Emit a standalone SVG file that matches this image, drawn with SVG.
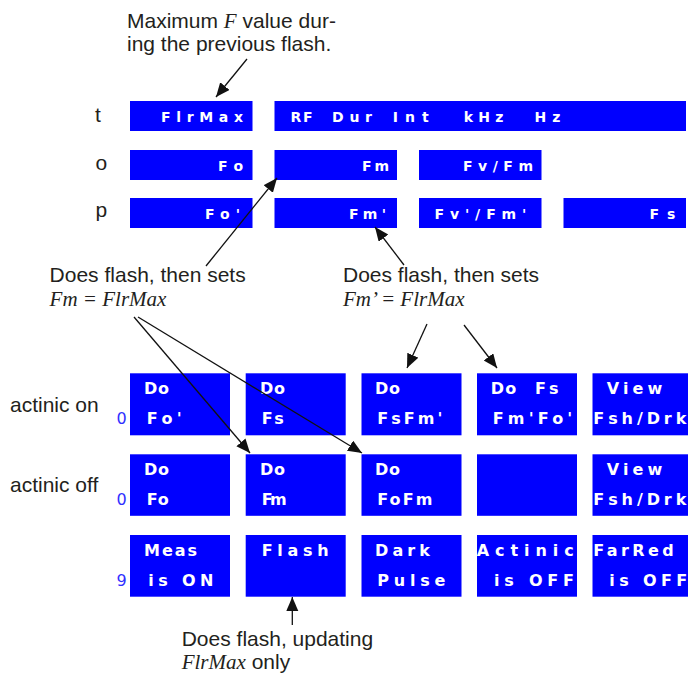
<svg xmlns="http://www.w3.org/2000/svg" width="688" height="673" viewBox="0 0 688 673">
<style>
.box{fill:#0000ff}
.lcd{font-family:"DejaVu Sans",Verdana,sans-serif;font-weight:bold;fill:#ffffff}
.up{font-size:14px}
.lo{font-size:16px}
.ann{font-family:"Liberation Sans",Arial,sans-serif;font-size:21px;fill:#231f20}
.it{font-family:"Liberation Serif","Times New Roman",serif;font-style:italic}
.num{font-family:"DejaVu Sans",sans-serif;font-size:16px;fill:#3030ff}
.conn line{stroke:#111;stroke-width:1.3;marker-end:url(#ah)}
</style>
<defs>
<marker id="ah" markerUnits="userSpaceOnUse" markerWidth="16" markerHeight="14" refX="14" refY="6" orient="auto">
<path d="M0,0 L14,6 L0,12 z" fill="#111"/>
</marker>
</defs>
<rect width="688" height="673" fill="#ffffff"/>

<g id="labels">
<text class="ann" x="127" y="28">Maximum <tspan class="it">F</tspan> value dur-</text>
<text class="ann" x="127" y="50.5">ing the previous flash.</text>
<text class="ann" x="95" y="122">t</text>
<text class="ann" x="95.5" y="170">o</text>
<text class="ann" x="95.5" y="217">p</text>
<text class="ann" x="49.6" y="282">Does flash, then sets</text>
<text class="ann it" x="49.6" y="306">Fm = FlrMax</text>
<text class="ann" x="343" y="282">Does flash, then sets</text>
<text class="ann it" x="343" y="306">Fm’ = FlrMax</text>
<text class="ann" x="10" y="412">actinic on</text>
<text class="ann" x="10" y="492">actinic off</text>
<text class="ann" x="181.7" y="646">Does flash, updating</text>
<text class="ann" x="181.7" y="668.5"><tspan class="it">FlrMax</tspan> only</text>
<text class="num" x="116.5" y="424">0</text>
<text class="num" x="116.5" y="505">0</text>
<text class="num" x="116.5" y="586">9</text>
</g>

<g id="t-flrmax"><rect class="box" x="130" y="101" width="122.5" height="30"/><text class="lcd up" x="161" y="122" textLength="82" lengthAdjust="spacing">FlrMax</text></g>
<g id="t-params"><rect class="box" x="274.5" y="101" width="411.5" height="30"/>
<text class="lcd up" x="290.5" y="122" textLength="22" lengthAdjust="spacing">RF</text>
<text class="lcd up" x="332" y="122" textLength="40" lengthAdjust="spacing">Dur</text>
<text class="lcd up" x="392.7" y="122" textLength="36" lengthAdjust="spacing">Int</text>
<text class="lcd up" x="463.8" y="122" textLength="39.6" lengthAdjust="spacing">kHz</text>
<text class="lcd up" x="534.4" y="122" textLength="26" lengthAdjust="spacing">Hz</text></g>

<g id="o-fo"><rect class="box" x="130" y="150" width="122.5" height="30"/><text class="lcd up" x="218" y="171" textLength="25" lengthAdjust="spacing">Fo</text></g>
<g id="o-fm"><rect class="box" x="274.5" y="150" width="122.5" height="30"/><text class="lcd up" x="362" y="171" textLength="27" lengthAdjust="spacing">Fm</text></g>
<g id="o-fvfm"><rect class="box" x="419" y="150" width="122.5" height="30"/><text class="lcd up" x="463" y="171" textLength="70" lengthAdjust="spacing">Fv/Fm</text></g>

<g id="p-fo"><rect class="box" x="130" y="198" width="122.5" height="30"/><text class="lcd up" x="205" y="219" textLength="35" lengthAdjust="spacing">Fo'</text></g>
<g id="p-fm"><rect class="box" x="274.5" y="198" width="122.5" height="30"/><text class="lcd up" x="349" y="219" textLength="37" lengthAdjust="spacing">Fm'</text></g>
<g id="p-fvfm"><rect class="box" x="419" y="198" width="122.5" height="30"/><text class="lcd up" x="434.4" y="219" textLength="92" lengthAdjust="spacing">Fv'/Fm'</text></g>
<g id="p-fs"><rect class="box" x="563.5" y="198" width="122.5" height="30"/><text class="lcd up" x="649.4" y="219" textLength="26" lengthAdjust="spacing">Fs</text></g>

<g id="on-dofo"><rect class="box" x="130" y="373.3" width="100" height="62"/>
<text class="lcd lo" x="144" y="394.3" textLength="25" lengthAdjust="spacing">Do</text>
<text class="lcd lo" x="146.7" y="424.3" textLength="35" lengthAdjust="spacing">Fo'</text></g>
<g id="on-dofs"><rect class="box" x="245.7" y="373.3" width="100" height="62"/>
<text class="lcd lo" x="260" y="394.3" textLength="25" lengthAdjust="spacing">Do</text>
<text class="lcd lo" x="261.7" y="424.3" textLength="22" lengthAdjust="spacing">Fs</text></g>
<g id="on-dofsfm"><rect class="box" x="361.5" y="373.3" width="100" height="62"/>
<text class="lcd lo" x="375" y="394.3" textLength="25" lengthAdjust="spacing">Do</text>
<text class="lcd lo" x="377.3" y="424.3" textLength="65" lengthAdjust="spacing">FsFm'</text></g>
<g id="on-dofsfmfo"><rect class="box" x="477" y="373.3" width="100" height="62"/>
<text class="lcd lo" x="490.7" y="394.3" textLength="25.5" lengthAdjust="spacing">Do</text>
<text class="lcd lo" x="535" y="394.3" textLength="23.5" lengthAdjust="spacing">Fs</text>
<text class="lcd lo" x="492.7" y="424.3" textLength="79.5" lengthAdjust="spacing">Fm'Fo'</text></g>
<g id="on-view"><rect class="box" x="592.5" y="373.3" width="100" height="62"/>
<text class="lcd lo" x="606.7" y="394.3" textLength="55.5" lengthAdjust="spacing">View</text>
<text class="lcd lo" x="593.3" y="424.3" textLength="93" lengthAdjust="spacing">Fsh/Drk</text></g>

<g id="off-dofo"><rect class="box" x="130" y="454.3" width="100" height="61.5"/>
<text class="lcd lo" x="144" y="475.3" textLength="25" lengthAdjust="spacing">Do</text>
<text class="lcd lo" x="146.7" y="505.3" textLength="22" lengthAdjust="spacing">Fo</text></g>
<g id="off-dofm"><rect class="box" x="245.7" y="454.3" width="100" height="61.5"/>
<text class="lcd lo" x="260" y="475.3" textLength="25" lengthAdjust="spacing">Do</text>
<text class="lcd lo" x="261.7" y="505.3" textLength="25" lengthAdjust="spacing">Fm</text></g>
<g id="off-dofofm"><rect class="box" x="361.5" y="454.3" width="100" height="61.5"/>
<text class="lcd lo" x="375" y="475.3" textLength="25" lengthAdjust="spacing">Do</text>
<text class="lcd lo" x="377.3" y="505.3" textLength="55" lengthAdjust="spacing">FoFm</text></g>
<g id="off-empty"><rect class="box" x="477" y="454.3" width="100" height="61.5"/></g>
<g id="off-view"><rect class="box" x="592.5" y="454.3" width="100" height="61.5"/>
<text class="lcd lo" x="606.7" y="475.3" textLength="55.5" lengthAdjust="spacing">View</text>
<text class="lcd lo" x="593.3" y="505.3" textLength="93" lengthAdjust="spacing">Fsh/Drk</text></g>

<g id="meas"><rect class="box" x="130" y="535" width="100" height="61.7"/>
<text class="lcd lo" x="144" y="556" textLength="53" lengthAdjust="spacing">Meas</text>
<text class="lcd lo" x="148.3" y="586" textLength="65" lengthAdjust="spacing">is ON</text></g>
<g id="flash"><rect class="box" x="245.7" y="535" width="100" height="61.7"/>
<text class="lcd lo" x="261.7" y="556" textLength="67" lengthAdjust="spacing">Flash</text></g>
<g id="darkpulse"><rect class="box" x="361.5" y="535" width="100" height="61.7"/>
<text class="lcd lo" x="375" y="556" textLength="55" lengthAdjust="spacing">Dark</text>
<text class="lcd lo" x="377.3" y="586" textLength="68" lengthAdjust="spacing">Pulse</text></g>
<g id="actinic"><rect class="box" x="477" y="535" width="100" height="61.7"/>
<text class="lcd lo" x="476.7" y="556" textLength="97" lengthAdjust="spacing">Actinic</text>
<text class="lcd lo" x="494" y="586" textLength="80" lengthAdjust="spacing">is OFF</text></g>
<g id="farred"><rect class="box" x="592.5" y="535" width="100" height="61.7"/>
<text class="lcd lo" x="593.3" y="556" textLength="80.5" lengthAdjust="spacing">FarRed</text>
<text class="lcd lo" x="609.3" y="586" textLength="78" lengthAdjust="spacing">is OFF</text></g>

<g id="connectors" class="conn">
<line x1="247" y1="59" x2="216" y2="97"/>
<line x1="206" y1="266" x2="277" y2="178"/>
<line x1="404" y1="265" x2="375" y2="227"/>
<line x1="134" y1="317" x2="250" y2="453"/>
<line x1="138" y1="317" x2="362" y2="453"/>
<line x1="427" y1="324" x2="407" y2="368"/>
<line x1="464" y1="325" x2="497" y2="368"/>
<line x1="292.3" y1="625" x2="292.3" y2="597"/>
</g>
</svg>
